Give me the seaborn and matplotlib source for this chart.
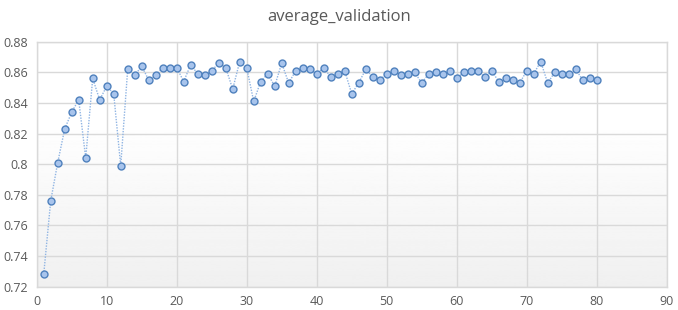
import numpy as np
import pandas as pd
import matplotlib
matplotlib.use("Agg")
import matplotlib.pyplot as plt
import seaborn as sns

epochs = list(range(1, 81))
avg_val = [
    0.728, 0.776, 0.801, 0.823, 0.834, 0.842, 0.804, 0.856, 0.842, 0.851,
    0.846, 0.799, 0.862, 0.858, 0.864, 0.855, 0.858, 0.863, 0.863, 0.863,
    0.854, 0.865, 0.859, 0.858, 0.861, 0.866, 0.863, 0.849, 0.867, 0.863,
    0.841, 0.854, 0.859, 0.851, 0.866, 0.853, 0.861, 0.863, 0.862, 0.859,
    0.863, 0.857, 0.859, 0.861, 0.846, 0.853, 0.862, 0.857, 0.855, 0.859,
    0.861, 0.858, 0.859, 0.860, 0.853, 0.859, 0.860, 0.859, 0.861, 0.856,
    0.860, 0.861, 0.861, 0.857, 0.861, 0.854, 0.856, 0.855, 0.853, 0.861,
    0.859, 0.867, 0.853, 0.860, 0.859, 0.859, 0.862, 0.855, 0.856, 0.855,
]
x_ticks = [0, 10, 20, 30, 40, 50, 60, 70, 80, 90]
y_ticks = [0.72, 0.74, 0.76, 0.78, 0.8, 0.82, 0.84, 0.86, 0.88]
y_labels = ["0.72", "0.74", "0.76", "0.78", "0.8", "0.82", "0.84", "0.86", "0.88"]

df = pd.DataFrame({"epoch": epochs, "average_validation": avg_val})

sns.set_style("white")
plt.rcParams["font.family"] = ["Open Sans", "DejaVu Sans"]

fig = plt.figure(figsize=(6.78, 3.10), dpi=100)
ax = fig.add_axes([36.7 / 678, 1 - 286.7 / 310, 630 / 678, 245 / 310])

# light gradient background, white at top to pale grey at bottom
grad = np.concatenate([np.ones(80), np.linspace(1.0, 0.94, 176)]).reshape(-1, 1)
ax.imshow(grad, extent=[0, 90, 0.72, 0.88], aspect="auto", cmap="gray",
          vmin=0, vmax=1, zorder=0, origin="upper")

sns.lineplot(data=df, x="epoch", y="average_validation", ax=ax,
             color="#8fb4e3", linestyle=(0, (1, 1)), linewidth=1.0,
             marker="o", markersize=5, markerfacecolor="#a8c4ec",
             markeredgecolor="#4f81bd", markeredgewidth=1.0, zorder=3)

ax.set_xlim(0, 90)
ax.set_ylim(0.72, 0.88)
ax.set_xticks(x_ticks)
ax.set_yticks(y_ticks)
ax.set_yticklabels(y_labels)
ax.grid(True, color="#d9d9d9", linewidth=1.0, zorder=1)
ax.set_axisbelow(True)
for s in ax.spines.values():
    s.set_color("#d9d9d9")
    s.set_linewidth(1.0)
ax.tick_params(axis="both", length=0, labelsize=9, labelcolor="#595959", pad=6)
ax.set_xlabel("")
ax.set_ylabel("")
fig.suptitle("average_validation", x=0.5, y=1 - 17 / 310, va="center",
             fontsize=12, color="#595959")

fig.savefig("out.png", dpi=100)
